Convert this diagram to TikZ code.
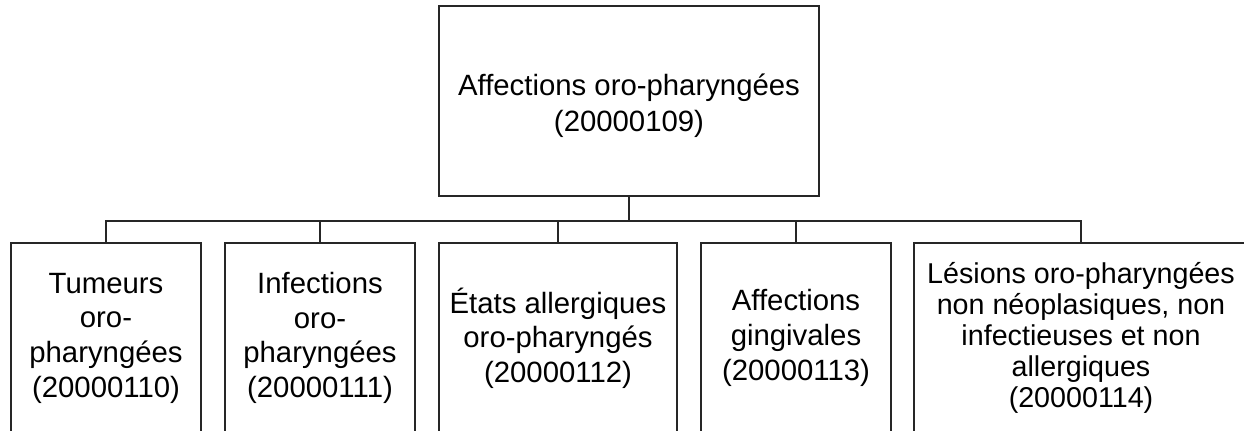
\documentclass[tikz,border=0pt]{standalone}
\usepackage{fontspec}
\setmainfont{Liberation Sans}
\begin{document}
\begin{tikzpicture}[x=0.75pt,y=-0.75pt,
  box/.style={draw=black!85, line width=0.8pt, inner sep=0pt, align=center,
    font=\fontsize{22}{26}\selectfont},
  link/.style={draw=black!85, line width=0.8pt}]
\useasboundingbox (0,0) rectangle (1244,431);
\clip (0,0) rectangle (1244,431);

% root of the hierarchy
\node[box, minimum width=285pt, minimum height=142.5pt,
  font=\fontsize{22}{27}\selectfont] (root) at (629,101)
  {\rule{0pt}{23pt}Affections oro-pharyngées\\(20000109)};

% sub-categories (boxes run past the lower edge)
\node[box, minimum width=142.5pt, minimum height=142.5pt] (c1) at (106,338)
  {Tumeurs\\oro-\\pharyngées\\(20000110)};
\node[box, minimum width=142.5pt, minimum height=142.5pt] (c2) at (320,338)
  {Infections\\oro-\\pharyngées\\(20000111)};
\node[box, minimum width=178.5pt, minimum height=142.5pt] (c3) at (558,338)
  {États allergiques\\oro-pharyngés\\(20000112)};
\node[box, minimum width=142.5pt, minimum height=142.5pt] (c4) at (796,338)
  {Affections\\gingivales\\(20000113)};
\node[box, minimum width=250.5pt, minimum height=142.5pt,
  font=\fontsize{21.5}{23.3}\selectfont] (c5) at (1081,338)
  {Lésions oro-pharyngées\\non néoplasiques, non\\infectieuses et non\\allergiques\\(20000114)};

% connectors
\coordinate (bus) at (629,221);
\draw[link] (root.south) -- (bus);
\foreach \c in {c1,c2,c3,c4,c5}
  \draw[link] (bus) -| (\c.north);
\end{tikzpicture}
\end{document}
